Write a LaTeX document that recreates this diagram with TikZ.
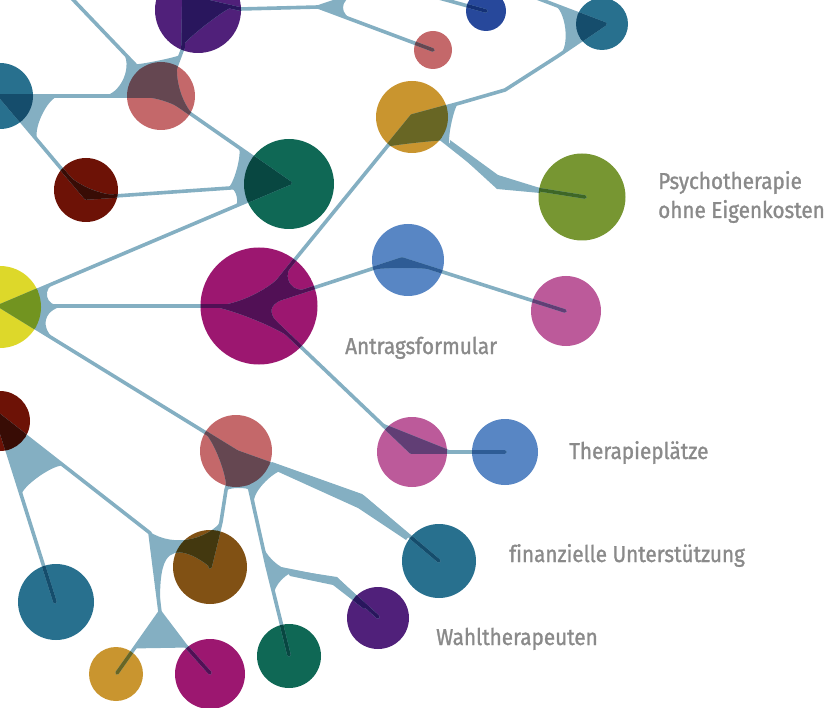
\documentclass[tikz,border=0pt]{standalone}
\usepackage{fontspec}
\setmainfont{Fira Sans}[FakeStretch=0.9,FakeBold=1.2,Ligatures=CommonOff]
\usetikzlibrary{calc}

\definecolor{linkblue}{HTML}{84AFC2}
\definecolor{lblgray}{HTML}{8A8A8A}
% circle colours and the same colours seen through a link
\definecolor{cpurple}{HTML}{50207A}  \definecolor{dpurple}{HTML}{29165D}
\definecolor{cteal}{HTML}{28708E}    \definecolor{dteal}{HTML}{154D6C}
\definecolor{crose}{HTML}{C4686A}    \definecolor{drose}{HTML}{654751}
\definecolor{cdarkred}{HTML}{6D1206} \definecolor{ddarkred}{HTML}{380C05}
\definecolor{cgreen}{HTML}{0F6855}   \definecolor{dgreen}{HTML}{084741}
\definecolor{cnavy}{HTML}{27489B}    \definecolor{dnavy}{HTML}{143176}
\definecolor{cgold}{HTML}{C9952F}    \definecolor{dgold}{HTML}{686624}
\definecolor{colive}{HTML}{779632}   \definecolor{dolive}{HTML}{3E6726}
\definecolor{cyellow}{HTML}{DDD82A}  \definecolor{dyellow}{HTML}{729420}
\definecolor{cmagenta}{HTML}{9C1770} \definecolor{dmagenta}{HTML}{511055}
\definecolor{cblue}{HTML}{5886C4}    \definecolor{dblue}{HTML}{2E5C95}
\definecolor{cpink}{HTML}{BC5A9A}    \definecolor{dpink}{HTML}{613E75}
\definecolor{cbrown}{HTML}{815114}   \definecolor{dbrown}{HTML}{43380F}

\def\netcol{linkblue}

% fork between two branches leaving hub #2 towards #3 and #4;
% #5 = depth of the rounded gap, #1 = roundness (-1: automatic)
\newcommand{\web}[5][-1]{%
  \pgfmathanglebetweenpoints{\pgfpointanchor{#2}{center}}{\pgfpointanchor{#3}{center}}\let\webA\pgfmathresult
  \pgfmathanglebetweenpoints{\pgfpointanchor{#2}{center}}{\pgfpointanchor{#4}{center}}\let\webB\pgfmathresult
  \pgfmathsetmacro\webh{abs(sin((\webA-\webB)/2))}%
  \pgfmathsetmacro\webf{#1<0 ? min(1,1.33*\webh) : #1}%
  \pgfmathsetmacro\webd{#5/((4-3*\webf)/4*sqrt(1-\webh*\webh))}%
  \pgfmathsetmacro\webin{(1-\webf)*\webd}%
  \fill[webfill] (#2) -- ($(#2)!\webd pt!(#3)$)
    .. controls ($(#2)!\webin pt!(#3)$) and ($(#2)!\webin pt!(#4)$)
    .. ($(#2)!\webd pt!(#4)$) -- cycle;}

% all links and forks, in colour \netcol
\newcommand{\network}{%
    \draw [link] (cTop) -- (hRoseA);
    \draw [link] (hRoseA) -- (bPur) -- (hPurA) -- (bTrunk) -- (T1) -- (cTrunkOff);
    \draw [link] (T1) -- (hRoseB);
    \draw [link] (cBlueOff) -- (hBlueA);
    \draw [link] (hTealA) -- (hRoseA);
    \draw [link] (hTealA) -- (hRedA) -- (bRG) -- (hGreenA);
    \draw [link] (hRoseA) -- (hGreenA);
    \draw [link] (hYellow) -- (hGreenA);
    \draw [link] (hYellow) -- (hMagBig);
    \draw [link] (hYellow) -- (hRoseC);
    \draw [link] (cTealOff) -- (hTealB) -- (bTB1) -- (bTB2) -- (bTB3) -- (hGold);
    \draw [link] (hGold) -- (bGO) -- (hOlive);
    \draw [link] (hMagBig) -- (bMG) -- (hGold);
    \draw [link] (hMagBig) -- (hBlueB) -- (hPinkA);
    \draw [link] (hMagBig) -- (hPinkB) -- (hBlueC);
    \draw [link] (hRoseC) -- (bRC1) -- (hTealD);
    \draw [link] (hRoseC) -- (bRCl0) -- (bRCl) -- (hBrown);
    \draw [link] (hRoseC) -- (bRCd) -- (M) -- (hGreenB);
    \draw [link] (M) -- (bM) -- (hPurB);
    \draw [link] (hRedB) -- (hTealC);
    \draw [link] (hRedB) -- (K1) -- (K2) -- (hGoldB);
    \draw [link] (K2) -- (bK) -- (hMagB);
    \web[0.1]{hPurA}{bPur}{bTrunk}{36}
    \web{T1}{cTrunkOff}{hRoseB}{25}
    \web[0.05]{hRoseA}{cTop}{bPur}{36}
    \web[0.3]{hRoseA}{cTop}{hTealA}{45}
    \web[0.8]{hRoseA}{hTealA}{hGreenA}{5}
    \web[0.45]{hRoseA}{hGreenA}{bPur}{16}
    \web[0.2]{hTealA}{hRoseA}{hRedA}{46}
    \web[0.6]{hRedA}{hTealA}{bRG}{10}
    \web[0.1]{hGreenA}{hRoseA}{bRG}{55}
    \web[0.1]{hGreenA}{bRG}{hYellow}{55}
    \web[0.25]{hTealB}{cTealOff}{bTB1}{40}
    \web[0.1]{hGold}{bTB3}{bGO}{40}
    \web[0.05]{hGold}{bGO}{bMG}{27}
    \web{hYellow}{hGreenA}{hMagBig}{48}
    \web{hYellow}{hMagBig}{hRoseC}{48}
    \web[0.55]{hMagBig}{hYellow}{bMG}{12}
    \web{hMagBig}{bMG}{hBlueB}{39}
    \web[0.9]{hMagBig}{hBlueB}{hPinkB}{14}
    \web[0.35]{hMagBig}{hPinkB}{hYellow}{14}
    \web[0.3]{hBlueB}{hMagBig}{hPinkA}{9}
    \web[0]{hPinkB}{hMagBig}{hBlueC}{16}
    \web[0.3]{hRoseC}{hYellow}{bRCl0}{19}
    \web[0.1]{hRoseC}{bRCl0}{bRCd}{36}
    \web[0.2]{hRoseC}{bRCd}{bRC1}{41}
    \web[0.3]{M}{hGreenB}{bM}{20}
    \web[0.5]{M}{bRCd}{bM}{8}
    \web[0]{K2}{hGoldB}{bK}{36}
    \web[0.1]{hRedB}{hTealC}{K1}{78}
    % thickened bends
    \fill [webfill] (450,140) -- (498,175) -- (540,188) -- (540,193) -- (497,189) -- (450,146) -- cycle;
    \fill [webfill] (272,462) -- (362,494) -- (410,535) -- (406,540) -- (358,508) -- (272,469) -- cycle;
    \fill [webfill] (285,569) -- (337,577) -- (368,606) -- (364,609) -- (333,585) -- (290,576) -- cycle;
    \fill [webfill] (140,524) .. controls (162,547) and (200,545) .. (bRCl) -- (hBrown)
        .. controls (195,555) and (175,545) .. (166,560) .. controls (160,570) and (160,590) .. (160,605)
        -- (K1) -- cycle;
}

\def\blobs{purA/198/10/43/cpurple/dpurple, tealA/0/96/33/cteal/dteal,
  roseA/161/96/34/crose/drose, redA/86/190/32/cdarkred/ddarkred,
  greenA/289/184/45/cgreen/dgreen, roseB/433/50/19/crose/drose,
  blueA/486/11/20/cnavy/dnavy, tealB/602/24/26/cteal/dteal,
  gold/412/117/36/cgold/dgold, olive/582/197/43.5/colive/dolive,
  yellow/0/307/41/cyellow/dyellow, magBig/259/306/58.5/cmagenta/dmagenta,
  blueB/408/260/36/cblue/dblue, pinkA/566/311/35/cpink/dpink,
  pinkB/412/452/35/cpink/dpink, blueC/505/452/33/cblue/dblue,
  redB/0/421/30/cdarkred/ddarkred, roseC/236/451/36/crose/drose,
  tealC/56/602/38/cteal/dteal, brown/210/567/37/cbrown/dbrown,
  goldB/116/674/27/cgold/dgold, magB/210/674/35/cmagenta/dmagenta,
  greenB/289/656/32/cgreen/dgreen, purB/378/618/31/cpurple/dpurple,
  tealD/439/561/37/cteal/dteal}

\tikzset{
  blob/.style={circle,inner sep=0pt,minimum size=#1},
  link/.style={draw=\netcol,line width=3.6pt,line join=round,line cap=round},
  webfill/.style={fill=\netcol},
  lbl/.style={text=lblgray,font=\fontsize{23}{29}\selectfont,anchor=base west,inner sep=0pt,align=left}
}

\begin{document}
\begin{tikzpicture}[x=1pt,y=-1pt]
    \path[use as bounding box] (0,0) rectangle (832,708);
    \clip (0,0) rectangle (832,708);

    \foreach \n/\x/\y/\r/\c/\d in \blobs
        \node [blob=2*\r,fill=\c] (\n) at (\x,\y) {};

    % hubs inside the circles
    \coordinate (hPurA) at (184,-4);
    \coordinate (hTealA) at (0,96);
    \coordinate (hRoseA) at (165,96);
    \coordinate (hRedA) at (86,198);
    \coordinate (hGreenA) at (290,183);
    \coordinate (hRoseB) at (433,50);
    \coordinate (hBlueA) at (486,11);
    \coordinate (hTealB) at (605,24);
    \coordinate (hGold) at (412,116);
    \coordinate (hOlive) at (585,197);
    \coordinate (hYellow) at (0,306);
    \coordinate (hMagBig) at (258,306);
    \coordinate (hBlueB) at (402,259);
    \coordinate (hPinkA) at (565,311);
    \coordinate (hPinkB) at (411,452);
    \coordinate (hBlueC) at (505,452);
    \coordinate (hRedB) at (-5,412);
    \coordinate (hRoseC) at (237,452);
    \coordinate (hTealC) at (55,602);
    \coordinate (hBrown) at (210,567);
    \coordinate (hGoldB) at (117,673);
    \coordinate (hMagB) at (210,673);
    \coordinate (hGreenB) at (289,655);
    \coordinate (hPurB) at (378,617);
    \coordinate (hTealD) at (439,561);

    % bends and forks
    \coordinate (cTop) at (60,-14);
    \coordinate (cTrunkOff) at (380,-14);
    \coordinate (cBlueOff) at (410,-10);
    \coordinate (cTealOff) at (521,-8);
    \coordinate (bPur) at (183,48);
    \coordinate (bTrunk) at (240,9);
    \coordinate (T1) at (318,7);
    \coordinate (bRG) at (230,188);
    \coordinate (bTB1) at (558,56);
    \coordinate (bTB2) at (505,90);
    \coordinate (bTB3) at (460,103);
    \coordinate (bGO) at (497,183);
    \coordinate (bMG) at (293,262);
    \coordinate (bRC1) at (363,497);
    \coordinate (bRCl0) at (226,490);
    \coordinate (bRCl) at (221,522);
    \coordinate (bRCd) at (250,490);
    \coordinate (M) at (267,566);
    \coordinate (bM) at (337,580);
    \coordinate (K1) at (150,533);
    \coordinate (K2) at (160,612);
    \coordinate (bK) at (185,645);

    \network
    % links seen through the circles
    \foreach \n/\x/\y/\r/\c/\d in \blobs {
        \begin{scope}
            \clip (\n.center) circle [radius=\r];
            \def\netcol{\d}
            \network
        \end{scope}
    }

    \node [lbl] (psy) at (658,218) {Psychotherapie\\ohne Eigenkosten};
    \node [lbl] (antrag) at (345,354) {Antragsformular};
    \node [lbl] (platz) at (569,459) {Therapieplätze};
    \node [lbl] (finanz) at (509,562) {finanzielle Unterstützung};
    \node [lbl] (wahl) at (436,645) {Wahltherapeuten};
\end{tikzpicture}
\end{document}
